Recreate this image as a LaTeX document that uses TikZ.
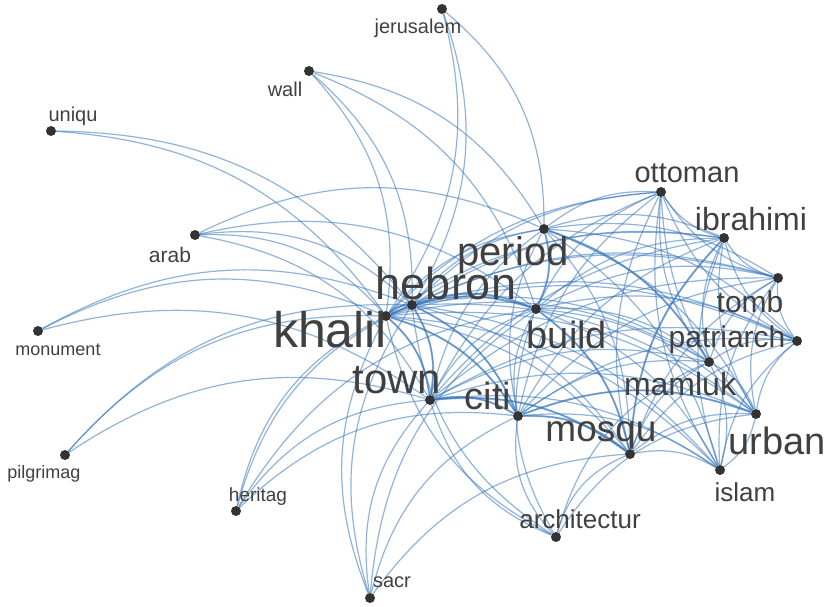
\documentclass[tikz,border=0pt]{standalone}
\usepackage{fontspec}
\setmainfont{Liberation Sans}
\usetikzlibrary{backgrounds}
\definecolor{edgeblue}{RGB}{54,117,186}
\definecolor{dotgray}{RGB}{51,51,51}
\definecolor{wordgray}{RGB}{64,64,64}
\newcommand{\wsize}[1]{\fontsize{#1}{#1}\selectfont}
\tikzset{
  dot/.style={circle,fill=dotgray,inner sep=0pt,minimum size=10pt},
  word/.style={text=wordgray,inner sep=0pt,anchor=center},
  edge/.style={draw=edgeblue,line width=1.2pt,opacity=0.55},
  heavyedge/.style={draw=edgeblue,line width=2pt,opacity=0.5},
}
\begin{document}
\begin{tikzpicture}[x=1pt,y=-1pt]
	\useasboundingbox (0,0) rectangle (829,607);
	% words and their dots
	\node[dot] (jerusalem) at (442,9) {};
	\node[dot] (wall) at (309,71) {};
	\node[dot] (uniqu) at (51,131) {};
	\node[dot] (arab) at (195,235) {};
	\node[dot] (monument) at (38,331) {};
	\node[dot] (pilgrimag) at (65,455) {};
	\node[dot] (heritag) at (236,511) {};
	\node[dot] (sacr) at (370,598) {};
	\node[dot] (architectur) at (556,537) {};
	\node[dot] (islam) at (720,470) {};
	\node[dot] (urban) at (756,414) {};
	\node[dot] (mosqu) at (630,454) {};
	\node[dot] (mamluk) at (709,362) {};
	\node[dot] (patriarch) at (797,341) {};
	\node[dot] (tomb) at (778,278) {};
	\node[dot] (ibrahimi) at (724,238) {};
	\node[dot] (ottoman) at (661,192) {};
	\node[dot] (period) at (544,229) {};
	\node[dot] (hebron) at (412,305) {};
	\node[dot] (khalil) at (386,316) {};
	\node[dot] (build) at (536,309) {};
	\node[dot] (town) at (430,400) {};
	\node[dot] (citi) at (518,416) {};
	\node[word,font=\wsize{20}] (jerusalem-l) at (418,28) {jerusalem};
	\node[word,font=\wsize{20}] (wall-l) at (285,89) {wall};
	\node[word,font=\wsize{20}] (uniqu-l) at (73,116) {uniqu};
	\node[word,font=\wsize{21}] (arab-l) at (170,255) {arab};
	\node[word,font=\wsize{18}] (monument-l) at (58,350) {monument};
	\node[word,font=\wsize{18}] (pilgrimag-l) at (44,474) {pilgrimag};
	\node[word,font=\wsize{19}] (heritag-l) at (258,497) {heritag};
	\node[word,font=\wsize{20}] (sacr-l) at (392,582) {sacr};
	\node[word,font=\wsize{26}] (architectur-l) at (580,519) {architectur};
	\node[word,font=\wsize{26}] (islam-l) at (745,492) {islam};
	\node[word,font=\wsize{38}] (urban-l) at (777,441) {urban};
	\node[word,font=\wsize{37}] (mosqu-l) at (601,435) {mosqu};
	\node[word,font=\wsize{32}] (mamluk-l) at (680,384) {mamluk};
	\node[word,font=\wsize{30}] (patriarch-l) at (727,340) {patriarch};
	\node[word,font=\wsize{30}] (tomb-l) at (750,302) {tomb};
	\node[word,font=\wsize{32}] (ibrahimi-l) at (751,219) {ibrahimi};
	\node[word,font=\wsize{29}] (ottoman-l) at (687,173) {ottoman};
	\node[word,font=\wsize{40}] (period-l) at (513,255) {period};
	\node[word,font=\wsize{45}] (hebron-l) at (446,283) {hebron};
	\node[word,font=\wsize{50}] (khalil-l) at (330,330) {khalil};
	\node[word,font=\wsize{38}] (build-l) at (567,335) {build};
	\node[word,font=\wsize{42}] (town-l) at (397,380) {town};
	\node[word,font=\wsize{38}] (citi-l) at (488,396) {citi};
	% co-occurrence arcs
	\begin{pgfonlayer}{background}
	\foreach \a/\b in {jerusalem/khalil,jerusalem/hebron,jerusalem/period,
		wall/khalil,wall/hebron,wall/period,wall/build,
		uniqu/khalil,uniqu/hebron,
		arab/period,arab/khalil,arab/hebron,arab/town,arab/build,
		monument/khalil,monument/hebron,monument/town,
		pilgrimag/khalil,pilgrimag/hebron,pilgrimag/town,
		heritag/khalil,heritag/hebron,heritag/town,heritag/citi,heritag/build,
		sacr/khalil,sacr/hebron,sacr/town,sacr/citi,sacr/mosqu,sacr/build,
		architectur/khalil,architectur/hebron,architectur/town,architectur/citi,
		architectur/build,architectur/mosqu,architectur/urban,architectur/mamluk}
		\draw[edge] (\a) to[bend left=25] (\b);
	\foreach \a [count=\i] in {khalil,hebron,town,citi,period,build,mosqu,mamluk,
		urban,islam,patriarch,tomb,ibrahimi,ottoman}
		\foreach \b [count=\j] in {khalil,hebron,town,citi,period,build,mosqu,mamluk,
			urban,islam,patriarch,tomb,ibrahimi,ottoman}
			{\ifnum\j>\i \draw[edge] (\a) to[bend left=20] (\b); \fi}
	% stronger ties
	\foreach \a/\b in {khalil/hebron,khalil/town,khalil/citi,khalil/build,
		hebron/town,hebron/citi,hebron/build,town/citi,citi/mosqu,period/build,
		citi/urban,mosqu/ibrahimi,period/mamluk,build/mosqu,town/mosqu}
		\draw[heavyedge] (\a) to[bend left=20] (\b);
	\end{pgfonlayer}
\end{tikzpicture}
\end{document}
